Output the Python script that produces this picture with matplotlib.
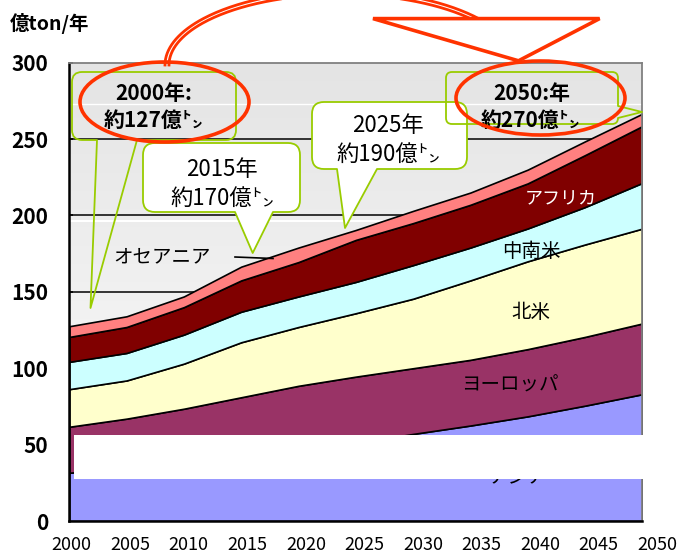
import numpy as np
import matplotlib
matplotlib.use('Agg')
import matplotlib.pyplot as plt
import matplotlib.transforms as mtransforms
from matplotlib.patches import PathPatch, Ellipse, Polygon, Rectangle
from matplotlib.path import Path
from matplotlib.colors import LinearSegmentedColormap

plt.rcParams['font.family'] = ['Noto Sans CJK JP', 'DejaVu Sans']

# ---------------- data ----------------
years = [2000, 2005, 2010, 2015, 2020, 2025, 2030, 2035, 2040, 2045, 2050]
regions = ['アジア', 'ヨーロッパ', '北米', '中南米', 'アフリカ', 'オセアニア']
asia = [31.6, 34.5, 37.5, 41.0, 45.5, 51.0, 57.0, 62.5, 68.5, 75.5, 83.0]
europe = [30.1, 32.5, 36.0, 40.0, 43.0, 43.5, 43.0, 43.0, 44.0, 45.0, 46.3]
north_america = [24.6, 25.0, 29.5, 36.0, 38.5, 41.5, 45.5, 52.0, 57.5, 60.5, 62.1]
latin_america = [17.9, 18.0, 19.0, 20.0, 20.0, 20.5, 22.0, 21.5, 21.5, 24.5, 29.9]
africa = [16.3, 17.0, 18.0, 20.5, 22.5, 27.5, 27.5, 28.0, 29.5, 34.0, 37.2]
oceania = [7.0, 7.0, 7.0, 9.0, 9.5, 6.5, 8.0, 8.0, 9.0, 9.0, 8.1]
series = [asia, europe, north_america, latin_america, africa, oceania]
colors = ['#9999FF', '#993366', '#FFFFCC', '#CCFFFF', '#800000', '#FF8080']
label_colors = ['black', 'black', 'black', 'black', 'white', 'black']
x_labels = ['2000', '2005', '2010', '2015', '2020', '2025', '2030', '2035', '2040', '2045', '2050']
y_ticks = [0, 50, 100, 150, 200, 250, 300]
y_title = '億ton/年'
callout_lines = [('2000年:', '約127億㌧'), ('2015年', '約170億㌧'),
                 ('2025年', '約190億㌧'), ('2050:年', '約270億㌧')]

# ---------------- layout ----------------
W, H = 685, 556
fig = plt.figure(figsize=(W / 100, H / 100), dpi=100)
L, R, T, B = 69.3, 642.3, 62.7, 521.0
ax = fig.add_axes([L / W, 1 - B / H, (R - L) / W, (B - T) / H])
ax.set_xlim(2000, 2050)
ax.set_ylim(0, 300)

# gradient background
cmap = LinearSegmentedColormap.from_list('g', ['#E4E4E4', '#FDFDFD'])
ax.imshow(np.linspace(0, 1, 256).reshape(-1, 1), cmap=cmap, extent=[2000, 2050, 0, 300],
          aspect='auto', origin='upper', zorder=0)
ax.axhline(196.5, color='white', lw=1.5, zorder=0.5)
ax.axhline(273, color='white', lw=1.0, zorder=0.5)
for v in [150, 200, 250]:
    ax.axhline(v, color='black', lw=1.1, zorder=1)

ax.stackplot(years, *series, colors=colors, edgecolor='black', linewidth=1.2, zorder=2)

for s in ['left', 'bottom']:
    ax.spines[s].set_color('black')
    ax.spines[s].set_linewidth(1.8)
for s in ['top', 'right']:
    ax.spines[s].set_color('#808080')
    ax.spines[s].set_linewidth(1.3)

ax.set_xticks(range(2001, 2050))
ax.tick_params(axis='x', direction='in', length=7, width=1.2, labelbottom=False)
ax.set_yticks(y_ticks)
ax.set_yticklabels([str(v) for v in y_ticks], fontsize=15, fontweight='bold')
ax.tick_params(axis='y', direction='in', length=3, width=1.2, pad=15)

trans = mtransforms.blended_transform_factory(ax.transData, fig.transFigure)
for i, lab in enumerate(x_labels):
    ax.text(2000.2 + 5.11 * i, 1 - 545 / H, lab, transform=trans, ha='center', va='center',
            fontsize=13, clip_on=False)

# region labels (data coords)
label_pos = [(2039.1, 28.5), (2038.4, 89), (2040.3, 136.2), (2040.3, 176.7), (2042.9, 211.4), (2008.1, 173)]
for name, (x, y), c in zip(regions, label_pos, label_colors):
    ax.text(x, y, name, ha='center', va='center', fontsize=14 if name != 'アフリカ' else 13,
            color=c, zorder=5)

# ---------------- overlay in pixel coords ----------------
ov = fig.add_axes([0, 0, 1, 1], zorder=10)
ov.set_xlim(0, W)
ov.set_ylim(H, 0)
ov.axis('off')
ov.patch.set_alpha(0)

ov.add_patch(Rectangle((74, 435), 569.5, 44, fc='white', ec='none', zorder=1))
ov.plot([235, 273], [257, 258.5], color='black', lw=1.2, zorder=2)

GREEN = '#99CC00'


def callout(x0, y0, x1, y1, r, side, b0, b1, tip, fc):
    verts, codes = [], []

    def M(p):
        verts.append(p); codes.append(Path.MOVETO)

    def Ln(p):
        verts.append(p); codes.append(Path.LINETO)

    def Q(c, p):
        verts.extend([c, p]); codes.extend([Path.CURVE3, Path.CURVE3])

    M((x0 + r, y0)); Ln((x1 - r, y0)); Q((x1, y0), (x1, y0 + r))
    if side == 'right':
        Ln((x1, b0)); Ln(tip); Ln((x1, b1))
    Ln((x1, y1 - r)); Q((x1, y1), (x1 - r, y1))
    if side == 'bottom':
        Ln((b1, y1)); Ln(tip); Ln((b0, y1))
    Ln((x0 + r, y1)); Q((x0, y1), (x0, y1 - r)); Ln((x0, y0 + r)); Q((x0, y0), (x0 + r, y0))
    verts.append((x0 + r, y0)); codes.append(Path.CLOSEPOLY)
    ov.add_patch(PathPatch(Path(verts, codes), fc=fc, ec=GREEN, lw=1.3, joinstyle='round', zorder=3))


callout(72, 72, 236, 140, 10, 'bottom', 97, 137, (90.5, 308), 'none')
callout(143, 143, 300, 212, 12, 'bottom', 235, 273, (252.7, 253), 'white')
callout(312, 102, 467, 169, 12, 'bottom', 337, 377, (345, 228), 'white')
callout(446, 72, 618, 124, 6, 'right', 106, 118, (642, 112), 'none')

txt = [((154, 94), (153, 120), 'bold', 15),
       ((222, 170), (222, 198), 'normal', 16),
       ((388, 126), (388, 154), 'normal', 16),
       ((532, 94), (530, 120), 'bold', 15)]
for (l1, l2), (p1, p2, wt, fs) in zip(callout_lines, txt):
    ov.text(p1[0], p1[1], l1, ha='center', va='center', fontsize=fs, fontweight=wt, zorder=4)
    ov.text(p2[0], p2[1], l2, ha='center', va='center', fontsize=fs, fontweight=wt, zorder=4)

RED = '#FF3300'
cx, cy = 341, 65
th = np.radians(np.linspace(180, 29, 200))
for a, b in [(176, 74.5), (172, 70.5)]:
    ov.plot(cx + a * np.cos(th), cy - b * np.sin(th), color=RED, lw=2, zorder=5)
ov.add_patch(Polygon([(373, 18.6), (599.6, 18.6), (518.5, 60.8)], closed=True, fc='white',
                     ec=RED, lw=2.6, zorder=6))
ov.add_patch(Ellipse((164.5, 102), 169, 80, fc='none', ec=RED, lw=2.6, zorder=7))
ov.add_patch(Ellipse((540.5, 98), 169, 74, fc='none', ec=RED, lw=2.6, zorder=7))

ov.text(10, 24, y_title, ha='left', va='center', fontsize=14, fontweight='bold', zorder=8)

fig.savefig('out.png', dpi=100)
